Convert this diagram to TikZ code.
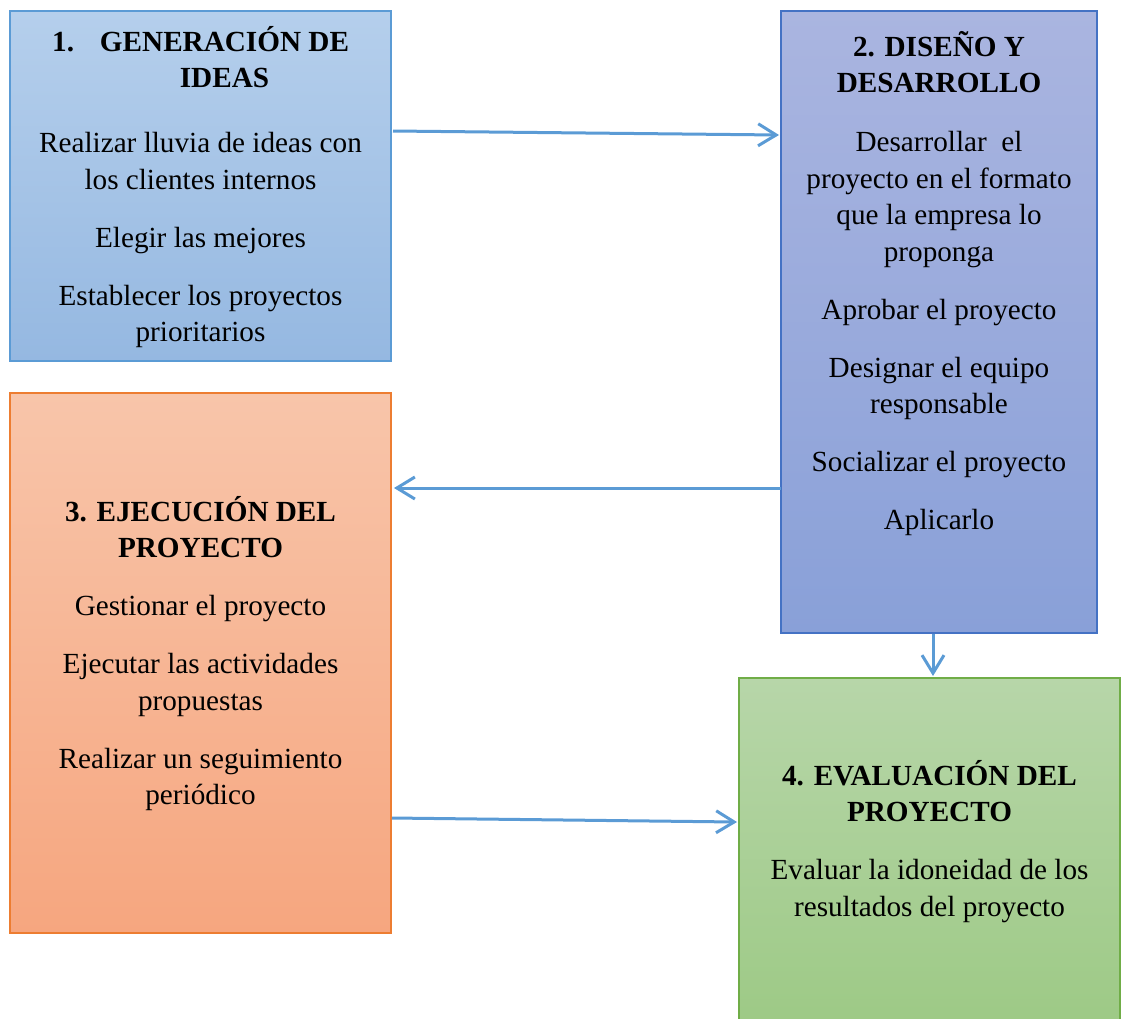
\documentclass[tikz,border=0pt]{standalone}
\usepackage{fontspec}
\setmainfont{Liberation Serif}
\usetikzlibrary{arrows.meta,calc}

% stage colours: fill gradient (top/bottom) and outline
\definecolor{ideaTop}{HTML}{B5CFEC}
\definecolor{ideaBot}{HTML}{95B8E1}
\definecolor{ideaLine}{HTML}{5B9BD5}
\definecolor{designTop}{HTML}{AAB5E0}
\definecolor{designBot}{HTML}{89A0D8}
\definecolor{designLine}{HTML}{4472C4}
\definecolor{execTop}{HTML}{F8C5AA}
\definecolor{execBot}{HTML}{F6A67F}
\definecolor{execLine}{HTML}{ED7D31}
\definecolor{evalTop}{HTML}{B7D6A9}
\definecolor{evalBot}{HTML}{9CC984}
\definecolor{evalLine}{HTML}{70AD47}
\definecolor{flow}{HTML}{5B9BD5}

\begin{document}
\begin{tikzpicture}[x=1pt,y=-1pt,
  stage/.style={rectangle, anchor=north west, inner sep=0pt, outer sep=0pt, line width=1.3pt},
  % multi-line text nodes are placed by the baseline of their last line
  stagetext/.style={anchor=base, align=center, inner sep=0pt,
    font=\fontsize{29.2}{36.5}\selectfont},
  flowarrow/.style={draw=flow, line width=3pt,
    -{Straight Barb[length=18pt,width=22pt,line width=3pt]}}]

\useasboundingbox (0,0) rectangle (1121,1018);

% boxes
\node[stage, draw=ideaLine, top color=ideaTop, bottom color=ideaBot,
  minimum width=381pt, minimum height=350pt] (b1) at (10,11) {};
\node[stage, draw=designLine, top color=designTop, bottom color=designBot,
  minimum width=316pt, minimum height=622pt] (b2) at (781,11) {};
\node[stage, draw=execLine, top color=execTop, bottom color=execBot,
  minimum width=381pt, minimum height=540pt] (b3) at (10,393) {};
\node[stage, draw=evalLine, top color=evalTop, bottom color=evalBot,
  minimum width=381pt, minimum height=362pt] (b4) at (739,678) {};

% texts
\node[stagetext, anchor=base west] (t1n) at (52,51) {\textbf{1.}};
\node[stagetext] (t1h) at (224.5,87.5) {\textbf{GENERACIÓN DE}\\\textbf{IDEAS}};
\node[stagetext] (t1) at (200.5,341.5) {Realizar lluvia de ideas con\\los clientes internos\\[21.5pt]
  Elegir las mejores\\[21.5pt]Establecer los proyectos\\prioritarios};

\node[stagetext] (t2) at (939,529.5) {\textbf{2. DISEÑO Y}\\\textbf{DESARROLLO}\\[22.5pt]
  Desarrollar\ \ el\\proyecto en el formato\\que la empresa lo\\proponga\\[21.5pt]
  Aprobar el proyecto\\[21.5pt]Designar el equipo\\responsable\\[21.5pt]
  Socializar el proyecto\\[21.5pt]Aplicarlo};

\node[stagetext] (t3) at (200.5,804.5) {\textbf{3. EJECUCIÓN DEL}\\\textbf{PROYECTO}\\[21.5pt]
  Gestionar el proyecto\\[21.5pt]Ejecutar las actividades\\propuestas\\[21.5pt]
  Realizar un seguimiento\\periódico};

\node[stagetext] (t4) at (929.5,916) {\textbf{4. EVALUACIÓN DEL}\\\textbf{PROYECTO}\\[21.5pt]
  Evaluar la idoneidad de los\\resultados del proyecto};

% flow between stages
\draw[flowarrow] ($(b1.north east)+(2,120)$) -- ($(b2.north west)+(-2,124)$);
\draw[flowarrow] ($(b2.north west)+(0,477)$) -- ($(b3.north east)+(3,95)$);
\coordinate (a3s) at ($(b2.south)+(-6,1)$);
\draw[flowarrow] (a3s) -- ($(a3s |- b4.north)+(0,-2)$);
\draw[flowarrow] ($(b3.north east)+(1,425)$) -- ($(b4.north west)+(-2,144)$);
\end{tikzpicture}
\end{document}
